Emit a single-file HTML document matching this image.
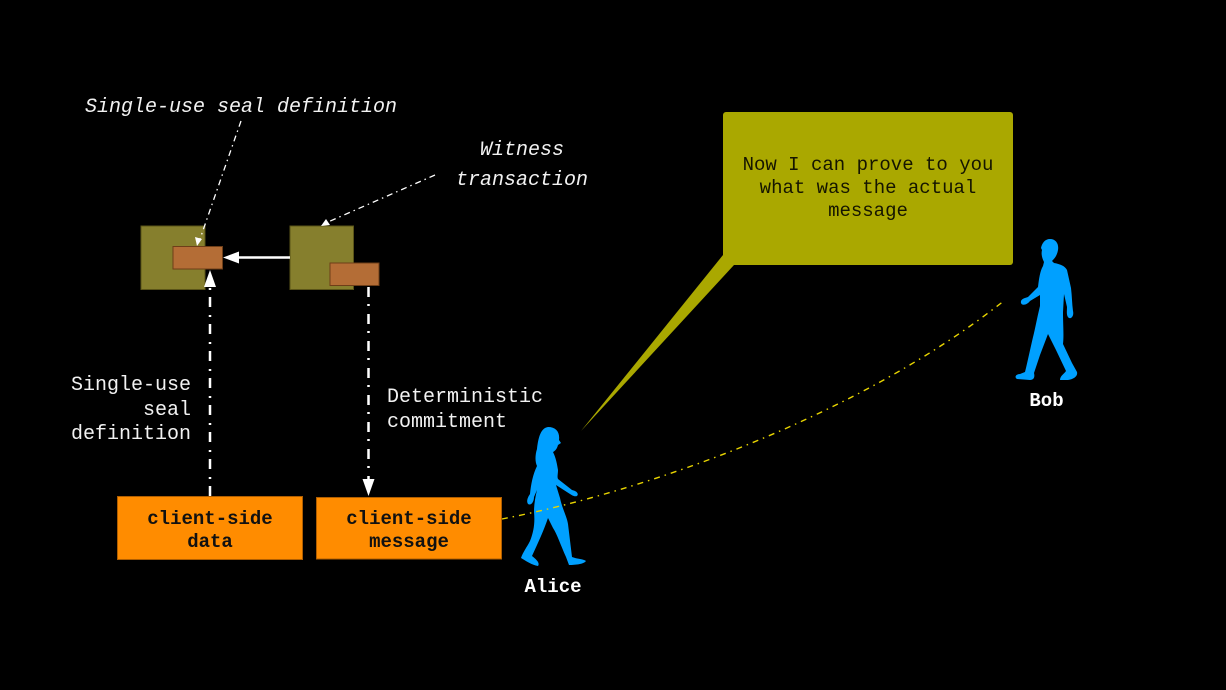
<!DOCTYPE html>
<html>
<head>
<meta charset="utf-8">
<style>
  html, body { margin: 0; padding: 0; background: #000; }
  body { width: 1226px; height: 690px; overflow: hidden; }
  svg { display: block; }
  text { font-family: "Liberation Mono", "DejaVu Sans Mono", monospace; }
</style>
</head>
<body>
<svg width="1226" height="690" viewBox="0 0 1226 690" xmlns="http://www.w3.org/2000/svg">
  <rect x="0" y="0" width="1226" height="690" fill="#000"/>

  <!-- Annotation texts (italic) -->
  <text x="241" y="112" font-size="20" font-style="italic" fill="#f2f2f2" text-anchor="middle">Single-use seal definition</text>
  <text x="522" y="155" font-size="20" font-style="italic" fill="#f2f2f2" text-anchor="middle">Witness</text>
  <text x="522" y="185" font-size="20" font-style="italic" fill="#f2f2f2" text-anchor="middle">transaction</text>

  <!-- small blocks -->
  <rect x="141" y="226" width="64" height="63.5" fill="#867f2d" stroke="#5a5418" stroke-width="1"/>
  <rect x="173" y="246.5" width="49.5" height="22.5" fill="#b46d36" stroke="#6e3e18" stroke-width="1"/>
  <rect x="290" y="226" width="63.5" height="63.5" fill="#867f2d" stroke="#5a5418" stroke-width="1"/>
  <rect x="330" y="263" width="49" height="22.5" fill="#b46d36" stroke="#6e3e18" stroke-width="1"/>

  <!-- annotation dash-dot leader lines (drawn over the blocks) -->
  <line x1="241" y1="121" x2="200" y2="239" stroke="#fff" stroke-width="1.3" stroke-dasharray="6,4,1.5,4"/>
  <polygon points="197,246 195,237 202,239" fill="#fff"/>
  <line x1="435" y1="175" x2="328" y2="222" stroke="#fff" stroke-width="1.3" stroke-dasharray="6,4,1.5,4"/>
  <polygon points="321,226 326,219 330,225" fill="#fff"/>

  <!-- horizontal arrow -->
  <line x1="290" y1="257.5" x2="236" y2="257.5" stroke="#fff" stroke-width="2.4"/>
  <polygon points="223,257.5 239,251.5 239,263.5" fill="#fff"/>

  <!-- up arrow (dash-dot) -->
  <line x1="210" y1="496" x2="210" y2="288" stroke="#fff" stroke-width="2.5" stroke-dasharray="10,7,2,8"/>
  <polygon points="210,270 204,287 216,287" fill="#fff"/>

  <!-- down arrow (dash-dot) -->
  <line x1="368.5" y1="287" x2="368.5" y2="480" stroke="#fff" stroke-width="2.5" stroke-dasharray="10,7,2,8"/>
  <polygon points="368.5,496 362.5,479 374.5,479" fill="#fff"/>

  <!-- side labels -->
  <text x="191" y="390" font-size="20" fill="#f2f2f2" text-anchor="end">Single-use</text>
  <text x="191" y="415" font-size="20" fill="#f2f2f2" text-anchor="end">seal</text>
  <text x="191" y="439" font-size="20" fill="#f2f2f2" text-anchor="end">definition</text>
  <text x="387" y="402" font-size="20" fill="#f2f2f2">Deterministic</text>
  <text x="387" y="427" font-size="20" fill="#f2f2f2">commitment</text>

  <!-- client-side boxes -->
  <rect x="117.5" y="496.5" width="185" height="63" fill="#ff8c00" stroke="#b05e00" stroke-width="1"/>
  <text x="210" y="524" font-size="19" font-weight="bold" fill="#111" text-anchor="middle">client-side</text>
  <text x="210" y="547" font-size="19" font-weight="bold" fill="#111" text-anchor="middle">data</text>
  <rect x="316.5" y="497.5" width="185" height="61.5" fill="#ff8c00" stroke="#b05e00" stroke-width="1"/>
  <text x="409" y="524" font-size="19" font-weight="bold" fill="#111" text-anchor="middle">client-side</text>
  <text x="409" y="547" font-size="19" font-weight="bold" fill="#111" text-anchor="middle">message</text>

  <!-- callout -->
  <polygon points="723,255 734,265 581,431" fill="#aaa800"/>
  <rect x="723" y="112" width="290" height="153" rx="3" ry="3" fill="#aaa800"/>
  <text x="868" y="170" font-size="19" fill="#151500" text-anchor="middle">Now I can prove to you</text>
  <text x="868" y="193" font-size="19" fill="#151500" text-anchor="middle">what was the actual</text>
  <text x="868" y="216" font-size="19" fill="#151500" text-anchor="middle">message</text>

  <!-- Alice figure -->
  <path fill="#00a0ff" d="M548,427 C556,427 560,432 559,440 L561,443 L558,445 C557,449 555,451 553,452 C556,458 557,464 558,470 C558,474 557,477 558,479 L572,490 C577,491 579,494 577,496 C574,497 572,495 570,494 L556,485 L560,498 C562,508 567,517 568,524 L572,557 C577,559 584,559 586,561 C584,564 576,565 569,565 L566,557 C561,546 557,534 553,528 L548,518 C544,530 538,543 532,556 C537,560 540,563 538,566 C532,565 526,561 521,558 C523,552 527,547 530,541 C534,531 535,522 534,512 C534,505 535,498 537,490 L534,497 C534,502 531,506 528,504 C526,501 528,497 530,494 C531,484 533,474 537,466 C535,462 535,455 537,449 C538,440 540,428 548,427 Z"/>
  <text x="553" y="592" font-size="19" font-weight="bold" fill="#fff" text-anchor="middle">Alice</text>

  <!-- Bob figure -->
  <path fill="#00a0ff" d="M1050,239 C1056,239 1059,244 1058,250 C1057,256 1054,259 1052,261 L1054,263 C1060,264 1065,266 1067,270 L1071,288 C1072,296 1072,304 1073,311 C1074,315 1072,319 1069,318 C1066,316 1067,311 1067,307 L1064,294 L1063,312 C1063,325 1064,335 1063,344 L1072,363 L1077,372 C1078,376 1074,379 1068,380 L1060,380 C1060,376 1064,374 1066,371 L1056,350 L1048,334 L1040,355 L1034,373 C1035,377 1034,380 1030,380 L1017,379 C1014,377 1016,374 1020,374 L1025,372 C1028,360 1031,345 1034,333 C1036,324 1038,314 1040,306 L1040,295 L1030,301 C1027,305 1022,306 1021,303 C1020,299 1025,298 1028,297 L1038,287 C1039,279 1040,271 1043,266 L1044,262 C1042,258 1041,254 1042,250 L1041,248 C1042,243 1045,239 1050,239 Z"/>
  <text x="1046.5" y="406" font-size="19" font-weight="bold" fill="#fff" text-anchor="middle">Bob</text>

  <!-- yellow dotted curve (drawn over Alice) -->
  <path d="M502,519 C650,490 860,415 1005,300" fill="none" stroke="#e8d400" stroke-width="1.4" stroke-dasharray="6,5,1.5,5"/>
</svg>
</body>
</html>
